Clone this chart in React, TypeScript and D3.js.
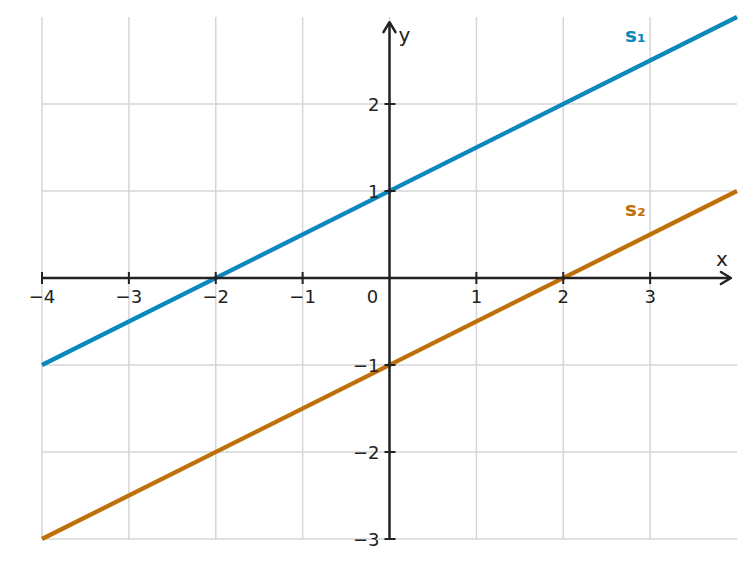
import React from "react";
import * as d3 from "d3";

const xTicks = [-4, -3, -2, -1, 0, 1, 2, 3];
const yTicks = [-3, -2, -1, 1, 2];
const xDomain = [-4, 4];
const yDomain = [-3, 3];
const series = [
  { name: "s", sub: "₁", color: "#0a87bd", points: [[-4, -1], [4, 3]], label: [2.83, 2.79] },
  { name: "s", sub: "₂", color: "#c0700a", points: [[-4, -3], [4, 1]], label: [2.83, 0.79] },
];

export default function App() {
  const W = 755, H = 567;
  const x = d3.scaleLinear().domain(xDomain).range([42, 737]);
  const y = d3.scaleLinear().domain(yDomain).range([539, 17]);
  const line = d3.line<number[]>().x(d => x(d[0])).y(d => y(d[1]));
  const font = "DejaVu Sans, sans-serif";
  const axisColor = "#222";
  const x0 = x(0), y0 = y(0);
  const xEnd = x(3.93), yEnd = y(2.94);
  return (
    <svg width={W} height={H} style={{ position: "absolute", left: 0, top: 0 }}>
      <rect width={W} height={H} fill="#fff" />
      {xTicks.map(t => (
        <line key={"gx" + t} x1={x(t)} x2={x(t)} y1={y(3)} y2={y(-3)} stroke="#d6d6d6" strokeWidth={1.5} />
      ))}
      {yTicks.map(t => (
        <line key={"gy" + t} x1={x(-4)} x2={x(4)} y1={y(t)} y2={y(t)} stroke="#d6d6d6" strokeWidth={1.5} />
      ))}
      {series.map((s, i) => (
        <path key={i} d={line(s.points) || ""} fill="none" stroke={s.color} strokeWidth={4.3} />
      ))}
      {/* x axis */}
      <line x1={x(-4)} x2={xEnd - 1} y1={y0} y2={y0} stroke={axisColor} strokeWidth={2.5} />
      <path d={`M${xEnd - 10},${y0 - 6} L${xEnd},${y0} L${xEnd - 10},${y0 + 6}`} fill="none" stroke={axisColor} strokeWidth={2.5} strokeLinecap="round" strokeLinejoin="round" />
      {/* y axis */}
      <line x1={x0} x2={x0} y1={y(-3)} y2={yEnd + 1} stroke={axisColor} strokeWidth={2.5} />
      <path d={`M${x0 - 6},${yEnd + 10} L${x0},${yEnd} L${x0 + 6},${yEnd + 10}`} fill="none" stroke={axisColor} strokeWidth={2.5} strokeLinecap="round" strokeLinejoin="round" />
      {xTicks.map(t => (
        <g key={"tx" + t}>
          {t !== 0 && <line x1={x(t)} x2={x(t)} y1={y0 - 6} y2={y0 + 6} stroke={axisColor} strokeWidth={2} />}
          <text x={t === 0 ? x(t) - 17 : x(t)} y={y0 + 25} textAnchor="middle" fontFamily={font} fontSize={18} fill="#222">
            {t < 0 ? "−" + Math.abs(t) : String(t)}
          </text>
        </g>
      ))}
      {yTicks.map(t => (
        <g key={"ty" + t}>
          <line x1={x0 - 5} x2={x0 + 6} y1={y(t)} y2={y(t)} stroke={axisColor} strokeWidth={2} />
          <text x={x0 - 10} y={y(t) + 6.5} textAnchor="end" fontFamily={font} fontSize={18} fill="#222">
            {t < 0 ? "−" + Math.abs(t) : String(t)}
          </text>
        </g>
      ))}
      <text x={xEnd - 9} y={y0 - 12} textAnchor="middle" fontFamily={font} fontSize={20} fill="#222">x</text>
      <text x={x0 + 15} y={yEnd + 20} textAnchor="middle" fontFamily={font} fontSize={20} fill="#222">y</text>
      {series.map((s, i) => (
        <text key={"l" + i} x={x(s.label[0])} y={y(s.label[1]) + 7} textAnchor="middle" fontFamily={font} fontSize={20} fontWeight="bold" fill={s.color}>
          {s.name + s.sub}
        </text>
      ))}
    </svg>
  );
}
